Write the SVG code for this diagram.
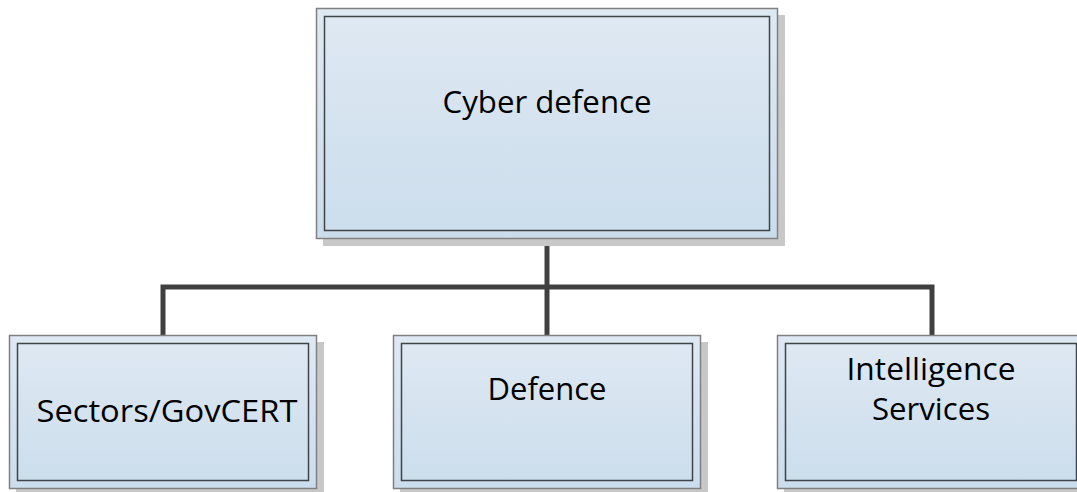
<svg xmlns="http://www.w3.org/2000/svg" width="1077" height="492" viewBox="0 0 1077 492">
  <defs>
    <linearGradient id="fill" x1="0" y1="0" x2="0" y2="1">
      <stop offset="0" stop-color="#dfe9f3"/>
      <stop offset="1" stop-color="#cbddec"/>
    </linearGradient>
  </defs>
  <style>
    .shadow { fill: #c8c8c8; }
    .outer { fill: url(#fill); stroke: #808080; stroke-width: 1.5; }
    .inner { fill: none; stroke: #3f4448; stroke-width: 1.5; }
    .lbl { font-family: "Open Sans", "Noto Sans", sans-serif; font-size: 31px; fill: #000; text-anchor: middle; }
    .conn { fill: none; stroke: #404040; stroke-width: 5; stroke-linejoin: miter; }
  </style>
  <rect width="1077" height="492" fill="#ffffff"/>

  <g id="connectors">
    <path class="conn" d="M547,239 V335"/>
    <path class="conn" d="M163,335 V287 H932 V335"/>
  </g>

  <g id="node-cyber-defence">
    <rect class="shadow" x="323" y="15" width="462" height="231"/>
    <rect class="outer" x="316.5" y="8.5" width="461" height="230"/>
    <rect class="inner" x="324.5" y="16.5" width="445" height="214"/>
    <text class="lbl" x="547" y="113" textLength="209" lengthAdjust="spacingAndGlyphs">Cyber defence</text>
  </g>

  <g id="node-sectors">
    <rect class="shadow" x="16" y="342" width="308" height="154"/>
    <rect class="outer" x="9.5" y="335.5" width="307" height="153"/>
    <rect class="inner" x="17.5" y="343.5" width="291" height="137"/>
    <text class="lbl" x="167" y="422" textLength="261" lengthAdjust="spacingAndGlyphs">Sectors/GovCERT</text>
  </g>

  <g id="node-defence">
    <rect class="shadow" x="400" y="342" width="308" height="154"/>
    <rect class="outer" x="393.5" y="335.5" width="307" height="153"/>
    <rect class="inner" x="401.5" y="343.5" width="291" height="137"/>
    <text class="lbl" x="547" y="400" textLength="119" lengthAdjust="spacingAndGlyphs">Defence</text>
  </g>

  <g id="node-intelligence">
    <rect class="shadow" x="784" y="342" width="308" height="154"/>
    <rect class="outer" x="777.5" y="335.5" width="307" height="153"/>
    <rect class="inner" x="785.5" y="343.5" width="291" height="137"/>
    <text class="lbl" x="931" y="380" textLength="169" lengthAdjust="spacingAndGlyphs">Intelligence</text>
    <text class="lbl" x="931" y="420" textLength="118" lengthAdjust="spacingAndGlyphs">Services</text>
  </g>
</svg>
